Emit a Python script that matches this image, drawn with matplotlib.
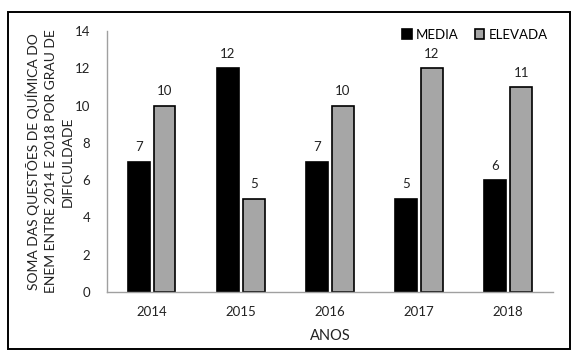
import matplotlib
matplotlib.use('Agg')
import matplotlib.pyplot as plt
from matplotlib.patches import Rectangle
import numpy as np

anos = ['2014', '2015', '2016', '2017', '2018']
media = [7, 12, 7, 5, 6]
elevada = [10, 5, 10, 12, 11]

plt.rcParams['font.family'] = ['Lato', 'DejaVu Sans']

fig = plt.figure(figsize=(5.77, 3.53), dpi=100)
ax = fig.add_axes([0.1854, 0.1728, 0.7726, 0.7392])

x = np.arange(len(anos))
w = 0.245
b1 = ax.bar(x - 0.145, media, w, color='black', edgecolor='black', linewidth=1.2, label='MEDIA')
b2 = ax.bar(x + 0.145, elevada, w, color='#a6a6a6', edgecolor='black', linewidth=1.2, label='ELEVADA')

for bars in (b1, b2):
    for bar in bars:
        h = bar.get_height()
        ax.annotate(f'{h:.0f}', (bar.get_x() + bar.get_width() / 2, h),
                    xytext=(0, 6), textcoords='offset points',
                    ha='center', va='bottom', fontsize=9.5, color='#222222')

ax.set_xlim(-0.5, 4.5)
ax.set_ylim(0, 14)
ax.set_yticks(range(0, 15, 2))
ax.set_xticks(x)
ax.set_xticklabels(anos)
ax.tick_params(length=0, labelsize=9.5, colors='#222222', pad=10)
ax.tick_params(axis='y', pad=12)

for s in ['top', 'right']:
    ax.spines[s].set_visible(False)
for s in ['left', 'bottom']:
    ax.spines[s].set_color('#a0a0a0')
    ax.spines[s].set_linewidth(1.0)

ax.set_xlabel('ANOS', fontsize=10.5, labelpad=8, color='#222222')
ax.set_ylabel('SOMA DAS QUESTÕES DE QUÍMICA DO\nENEM ENTRE 2014 E 2018 POR GRAU DE\nDIFICULDADE',
              fontsize=10, labelpad=1, color='#222222', linespacing=1.45)

ax.legend(loc='upper right', bbox_to_anchor=(1.0, 1.03), ncol=2, frameon=False,
          fontsize=9.5, handlelength=0.75, handleheight=0.75, handletextpad=0.3,
          columnspacing=1.2, borderaxespad=0)

fig.patches.append(Rectangle((8 / 577, 1 - 349 / 353), 562 / 577, 337 / 353,
                             transform=fig.transFigure, fill=False,
                             edgecolor='black', linewidth=1.4))

fig.savefig('out.png', dpi=100)
